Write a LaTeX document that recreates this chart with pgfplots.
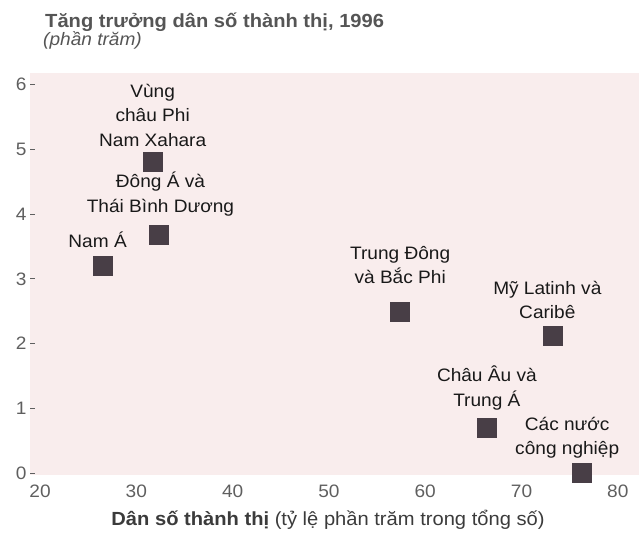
\documentclass[border=0pt]{standalone}
\usepackage{fontspec}
\setmainfont{Liberation Sans}[FakeStretch=1.06]
\usepackage{pgfplots}
\pgfplotsset{compat=1.18}
\definecolor{bgpink}{RGB}{249,237,237}
\definecolor{sq}{RGB}{72,62,70}
\definecolor{titlegray}{RGB}{85,85,85}
\definecolor{tickgray}{RGB}{95,95,95}
\definecolor{lab}{RGB}{25,25,25}
\tikzset{lbl/.style={align=center, font=\fontsize{18}{24.5}\selectfont, text=lab, inner sep=0pt, anchor=center}}
\begin{document}
\begin{tikzpicture}
\useasboundingbox (-30pt,-58pt) rectangle (609pt,475pt);
\begin{axis}[
  scale only axis, width=609pt, height=402pt,
  xmin=18.96, xmax=82.2, ymin=-0.03, ymax=6.18,
  axis background/.style={fill=bgpink},
  axis line style={draw=none},
  xtick={20,30,...,80}, ytick={0,1,...,6},
  xtick style={draw=none},
  ytick style={draw=tickgray, line width=0.8pt},
  tick align=inside, ytick pos=left, xtick pos=bottom,
  major tick length=5pt,
  /pgf/number format/assume math mode=true,
  tick label style={font=\fontsize{18}{20}\selectfont, text=tickgray},
  xticklabel style={yshift=-6pt},
  clip=false,
]
\addplot[only marks, mark=square*, mark size=9.5pt, color=sq, mark options={draw=sq, fill=sq}] coordinates {
  (26.5,3.21) (31.7,4.81) (32.3,3.68) (57.4,2.50) (73.2,2.12) (66.4,0.70) (76.2,0.0)
};
\node[lbl, yshift=46.7pt] at (axis cs:31.7,4.81) {Vùng\\châu Phi\\Nam Xahara};
\node[lbl, yshift=41pt, xshift=2pt] at (axis cs:32.3,3.68) {Đông Á và\\Thái Bình Dương};
\node[lbl, yshift=25pt, xshift=-5pt] at (axis cs:26.5,3.21) {Nam Á};
\node[lbl, yshift=46pt] at (axis cs:57.4,2.50) {Trung Đông\\và Bắc Phi};
\node[lbl, yshift=36pt, xshift=-5pt] at (axis cs:73.2,2.12) {Mỹ Latinh và\\Caribê};
\node[lbl, yshift=39.5pt] at (axis cs:66.4,0.70) {Châu Âu và\\Trung Á};
\node[lbl, yshift=35.5pt, xshift=-14pt] at (axis cs:76.2,0.0) {Các nước\\công nghiệp};
\end{axis}
\node[anchor=base west, inner sep=0pt, font=\bfseries\fontsize{19}{22}\selectfont, text=titlegray] at (15pt,447pt) {Tăng trưởng dân số thành thị, 1996};
\node[anchor=base west, inner sep=0pt, font=\itshape\fontsize{18}{20}\selectfont, text=titlegray] at (13pt,429pt) {(phần trăm)};
\node[anchor=base, inner sep=0pt, font=\fontsize{19}{20}\selectfont, text=lab!85] at (298pt,-50pt) {\textbf{Dân số thành thị} (tỷ lệ phần trăm trong tổng số)};
\end{tikzpicture}
\end{document}
